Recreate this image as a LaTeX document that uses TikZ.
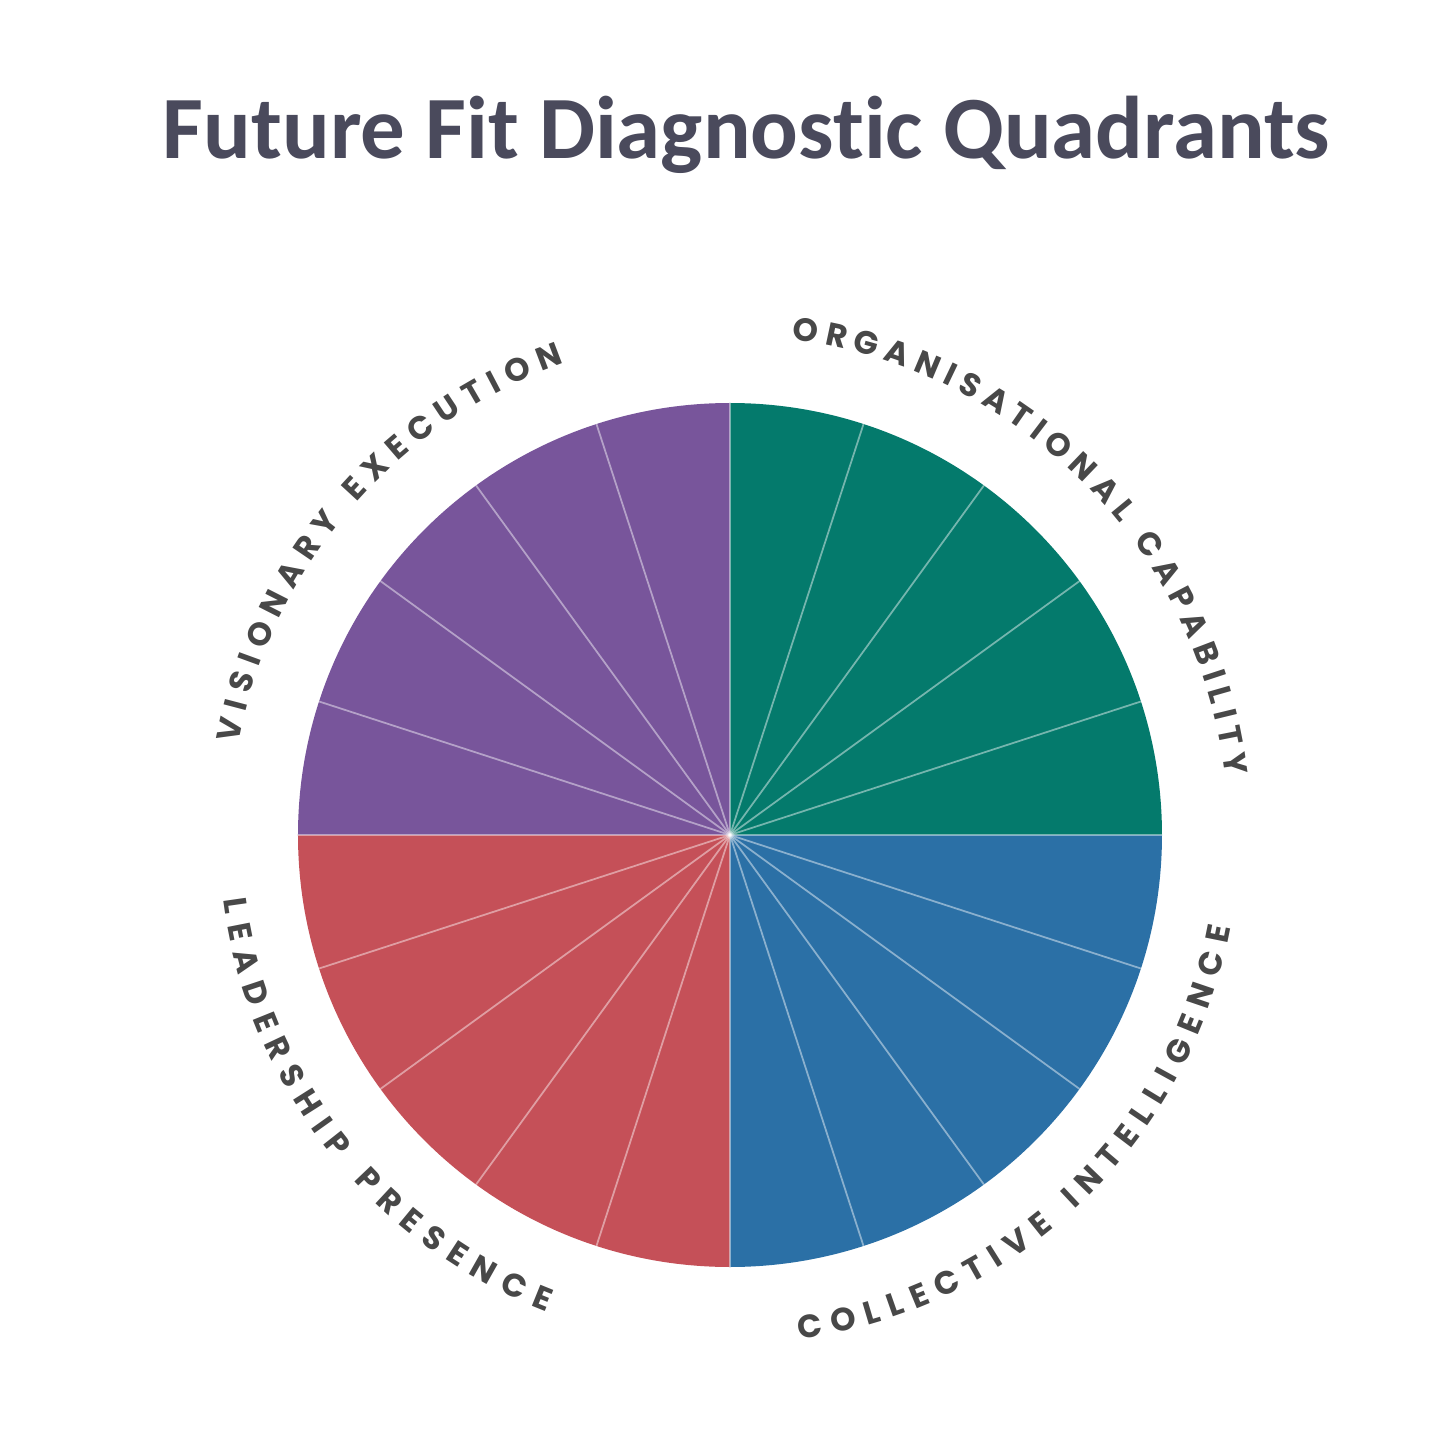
\documentclass[tikz,border=0pt]{standalone}
\usepackage{fontspec}
\usepackage{tikz}
\usetikzlibrary{decorations.text}
\newfontfamily\titlefont[Ligatures={NoCommon}]{Carlito}
\newfontfamily\ringfont{Poppins}
\definecolor{titlegray}{HTML}{4A4A5C}
\definecolor{ringgray}{HTML}{484848}
\definecolor{orgteal}{HTML}{047A6C}
\definecolor{vispurple}{HTML}{78559B}
\definecolor{leadred}{HTML}{C55058}
\definecolor{collblue}{HTML}{2B70A6}

\tikzset{
  ringlabel/.style={decorate, decoration={text along path, text align=fit to path, text color=ringgray}}
}

\begin{document}
\begin{tikzpicture}
  \useasboundingbox (-7.30,-6.05) rectangle (7.10,8.35);

  % Title
  \node[font=\titlefont\bfseries\fontsize{25.3}{30}\selectfont, text=titlegray, anchor=base] (title) at (0.165, 6.76) {Future Fit Diagnostic Quadrants};

  % Quadrants
  \foreach \start/\col in {0/orgteal, 90/vispurple, 180/leadred, 270/collblue} {
    \fill[\col] (0,0) -- (\start:4.32) arc[start angle=\start, end angle=\start+90, radius=4.32] -- cycle;
  }

  % Slice dividers, 5 per quadrant
  \foreach \a in {0,18,...,342} {
    \draw[white, opacity=0.45, line width=0.5pt] (0,0) -- (\a:4.32);
  }

  % Ring labels
  \path[ringlabel, decoration={text={|\ringfont\bfseries\fontsize{9.2}{9}\selectfont|ORGANISATIONAL CAPABILITY}}]
    (82.9:4.99) arc[start angle=82.9, end angle=6.8, radius=4.99];
  \path[ringlabel, decoration={text={|\ringfont\bfseries\fontsize{9.2}{9}\selectfont|VISIONARY EXECUTION}}]
    (169.5:5.0) arc[start angle=169.5, end angle=109.4, radius=5.0];
  \path[ringlabel, decoration={text={|\ringfont\bfseries\fontsize{9.2}{9}\selectfont|LEADERSHIP PRESENCE}}]
    (187.3:5.11) arc[start angle=187.3, end angle=248.9, radius=5.11];
  \path[ringlabel, decoration={text={|\ringfont\bfseries\fontsize{9.2}{9}\selectfont|COLLECTIVE INTELLIGENCE}}]
    (277.8:5.09) arc[start angle=277.8, end angle=349.5, radius=5.09];
\end{tikzpicture}
\end{document}
